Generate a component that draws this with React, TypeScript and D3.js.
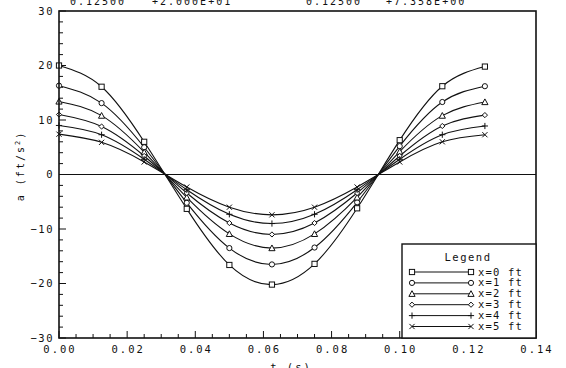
import React from "react";
import * as d3 from "d3";

const tValues = [0, 0.0125, 0.025, 0.0375, 0.05, 0.0625, 0.075, 0.0875, 0.1, 0.1125, 0.125];
const seriesLabels = ["x=0  ft", "x=1  ft", "x=2  ft", "x=3  ft", "x=4  ft", "x=5  ft"];
const markerKinds = ["square", "circle", "triangle", "diamond", "plus", "cross"];
const a0 = [20.0, 16.1, 6.0, -6.3, -16.6, -20.2, -16.4, -6.2, 6.3, 16.2, 19.8];
const a1 = [16.3, 13.1, 5.0, -5.2, -13.5, -16.5, -13.4, -5.1, 5.2, 13.3, 16.2];
const a2 = [13.4, 10.8, 4.1, -4.2, -10.9, -13.5, -10.9, -4.2, 4.2, 10.8, 13.3];
const a3 = [11.0, 8.8, 3.4, -3.4, -8.9, -11.0, -8.9, -3.4, 3.4, 8.9, 10.9];
const a4 = [9.0, 7.3, 2.8, -2.8, -7.3, -9.0, -7.3, -2.8, 2.8, 7.3, 8.9];
const a5 = [7.4, 5.9, 2.3, -2.3, -6.0, -7.4, -6.0, -2.3, 2.3, 6.0, 7.3];
const seriesValues = [a0, a1, a2, a3, a4, a5];
const xTicks = [0, 0.02, 0.04, 0.06, 0.08, 0.1, 0.12, 0.14];
const yTicks = [-30, -20, -10, 0, 10, 20, 30];
const headerTexts = ["0.12500", "+2.000E+01", "0.12500", "+7.358E+00"];

const W = 566, H = 368;
const L = 59, R = 536, T = 11, B = 338;
const FONT = "'DejaVu Sans Mono', 'Liberation Mono', monospace";

function Marker({ kind, x, y }: { kind: string; x: number; y: number }) {
  const s = 2.6;
  const p = { fill: "white", stroke: "#111", strokeWidth: 1 };
  switch (kind) {
    case "square":
      return <rect x={x - s} y={y - s} width={2 * s} height={2 * s} {...p} />;
    case "circle":
      return <circle cx={x} cy={y} r={s} {...p} />;
    case "triangle":
      return <path d={`M${x},${y - s - 0.5}L${x + s + 0.5},${y + s}L${x - s - 0.5},${y + s}Z`} {...p} />;
    case "diamond":
      return <path d={`M${x},${y - s}L${x + s},${y}L${x},${y + s}L${x - s},${y}Z`} {...p} />;
    case "plus":
      return <path d={`M${x - s - 0.5},${y}H${x + s + 0.5}M${x},${y - s - 0.5}V${y + s + 0.5}`} fill="none" stroke="#111" strokeWidth={1} />;
    default:
      return <path d={`M${x - s},${y - s}L${x + s},${y + s}M${x - s},${y + s}L${x + s},${y - s}`} fill="none" stroke="#111" strokeWidth={1} />;
  }
}

export default function App() {
  const x = d3.scaleLinear().domain([0, 0.14]).range([L, R]);
  const y = d3.scaleLinear().domain([-30, 30]).range([B, T]);
  const line = d3
    .line<number>()
    .x((_, i) => x(tValues[i]))
    .y((d) => y(d))
    .curve(d3.curveNatural);

  const xMinor = d3.range(0, 0.1401, 0.005);
  const yMinor = d3.range(-30, 30.01, 2);

  const legX0 = 402, legY0 = 244;
  const rowY = (i: number) => 272 + i * 10.9;

  return (
    <svg width={W} height={H} style={{ position: "absolute", left: 0, top: 0, background: "white" }}>
      <rect x={0} y={0} width={W} height={H} fill="white" />
      {headerTexts.map((s, i) => (
        <text key={i} x={[70, 152, 306, 386][i]} y={5} fontFamily={FONT} fontSize={10} letterSpacing={2} fill="#111">
          {s}
        </text>
      ))}
      <line x1={L} x2={R} y1={y(0)} y2={y(0)} stroke="#111" strokeWidth={1} />
      {xMinor.map((v, i) => {
        const major = i % 4 === 0;
        return <line key={"xm" + i} x1={x(v)} x2={x(v)} y1={B} y2={B - (major ? 7 : 4)} stroke="#111" strokeWidth={1} />;
      })}
      {yMinor.map((v, i) => {
        const major = i % 5 === 0;
        return <line key={"ym" + i} x1={L} x2={L + (major ? 7 : 4)} y1={y(v)} y2={y(v)} stroke="#111" strokeWidth={1} />;
      })}
      {seriesValues.map((vals, si) => (
        <g key={si}>
          <path d={line(vals) || ""} fill="none" stroke="#111" strokeWidth={1.1} />
          {vals.map((v, i) => (
            <Marker key={i} kind={markerKinds[si]} x={x(tValues[i])} y={y(v)} />
          ))}
        </g>
      ))}
      <rect x={L} y={T} width={R - L} height={B - T} fill="none" stroke="#111" strokeWidth={1.6} />
      {xTicks.map((v, i) => (
        <text key={"xt" + i} x={x(v) + 1} y={353} textAnchor="middle" fontFamily={FONT} fontSize={10.5} letterSpacing={2} fill="#111">
          {v.toFixed(2)}
        </text>
      ))}
      {yTicks.map((v, i) => (
        <text key={"yt" + i} x={54} y={y(v) + 3.5} textAnchor="end" fontFamily={FONT} fontSize={10.5} letterSpacing={1.5} fill="#111">
          {v === 0 ? "0" : String(v).replace("-", "\u2212")}
        </text>
      ))}
      <text x={291} y={371} textAnchor="middle" fontFamily={FONT} fontSize={10.5} letterSpacing={2} fill="#111">
        t (s)
      </text>
      <text transform={`translate(24,166) rotate(-90)`} textAnchor="middle" fontFamily={FONT} fontSize={10} letterSpacing={2} fill="#111">
        a (ft/s<tspan dy={-4} fontSize={7}>2</tspan><tspan dy={4}>)</tspan>
      </text>
      <rect x={legX0} y={legY0} width={R - legX0} height={B - legY0} fill="white" stroke="#111" strokeWidth={1.4} />
      <text x={468} y={261} textAnchor="middle" fontFamily={FONT} fontSize={10.5} letterSpacing={1.5} fill="#111">
        Legend
      </text>
      {seriesLabels.map((lab, i) => (
        <g key={"lg" + i}>
          <line x1={412} x2={471} y1={rowY(i)} y2={rowY(i)} stroke="#111" strokeWidth={1} />
          <Marker kind={markerKinds[i]} x={412} y={rowY(i)} />
          <Marker kind={markerKinds[i]} x={471} y={rowY(i)} />
          <text x={478} y={rowY(i) + 3.5} fontFamily={FONT} fontSize={10.5} letterSpacing={1.2} fill="#111">
            {lab}
          </text>
        </g>
      ))}
    </svg>
  );
}
